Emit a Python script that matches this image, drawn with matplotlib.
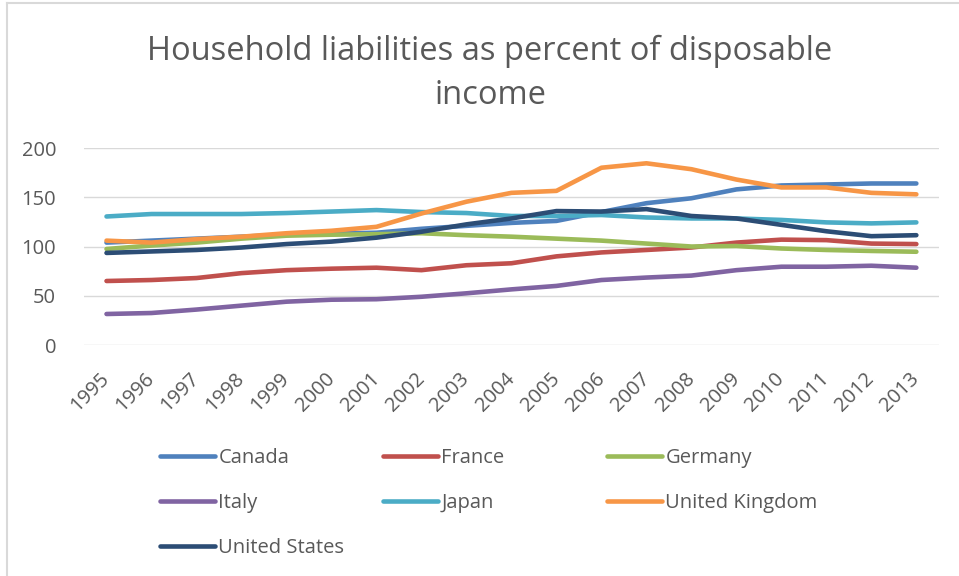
import numpy as np
import matplotlib.pyplot as plt
from matplotlib.lines import Line2D
from matplotlib.transforms import ScaledTranslation

plt.rcParams['font.family'] = ['Open Sans', 'DejaVu Sans']

years = [str(y) for y in range(1995, 2014)]

canada = [104, 106, 108, 110, 112, 113, 114, 118, 121, 124, 126, 135, 144, 149, 158, 162, 163, 164, 164]
france = [65, 66, 68, 73, 76, 77.5, 78.5, 76, 81, 83, 90, 94, 96.5, 99, 104, 107, 106.5, 103, 102.5]
germany = [97.5, 101, 104, 108, 111, 112, 112.5, 113.5, 111.5, 110, 108, 106, 103, 100, 100.5, 98, 96.5, 95.5, 94.7]
italy = [31.5, 32.5, 36, 40, 44, 46, 46.5, 49, 52.5, 56.5, 60, 66, 68.5, 70.5, 76, 79.5, 79.5, 80.5, 78.5]
japan = [130.5, 133, 133, 133, 134, 135.5, 137, 135, 134, 131, 131, 132, 129.5, 128.5, 128.5, 127, 124.5, 123.5, 124.5]
uk = [106, 104, 107.5, 110, 113.5, 116, 120, 133.5, 145.5, 154.5, 156.5, 180, 184.5, 178.5, 168, 160, 160, 154.5, 153]
us = [93.5, 95, 96.5, 99, 102.5, 105, 109, 115, 122.5, 128.5, 136, 135.5, 138, 131, 128.5, 122, 115.5, 110.5, 111.5]

series = [
    ('Canada', canada, '#4F81BD'),
    ('France', france, '#C0504D'),
    ('Germany', germany, '#9BBB59'),
    ('Italy', italy, '#8064A2'),
    ('Japan', japan, '#4BACC6'),
    ('United Kingdom', uk, '#F79646'),
    ('United States', us, '#2C4D75'),
]

text_col = '#595959'
grid_col = '#D9D9D9'

fig = plt.figure(figsize=(9.59, 5.76), dpi=100)
ax = fig.add_axes([0.0876, 0.401, 0.8914, 0.342])

x = np.arange(len(years))
lines = {}
for name, vals, col in series:
    ln, = ax.plot(x, vals, color=col, lw=3.3, solid_capstyle='round', label=name)
    lines[name] = ln

ax.set_xlim(-0.5, len(years) - 0.5)
ax.set_ylim(0, 200)
ax.set_yticks([0, 50, 100, 150, 200])
ax.set_xticks(x)
ax.set_xticklabels(years, rotation=45, ha='right', rotation_mode='anchor')
ax.tick_params(axis='both', length=0, colors=text_col)
ax.tick_params(axis='y', pad=20, labelsize=14.5)
ax.tick_params(axis='x', pad=17, labelsize=14.5)
shift = ScaledTranslation(-5 / 72, 0, fig.dpi_scale_trans)
for lab in ax.get_xticklabels():
    lab.set_transform(lab.get_transform() + shift)
ax.grid(axis='y', color=grid_col, lw=1)
ax.set_axisbelow(True)
for s in ax.spines.values():
    s.set_visible(False)

fig.text(0.511, 0.873, 'Household liabilities as percent of disposable\nincome',
         ha='center', va='center', fontsize=23.5, color=text_col, linespacing=1.45)

# one legend per column so columns sit on a fixed grid like the original
columns = [(0.1668, ['Canada', 'Italy', 'United States']),
           (0.3994, ['France', 'Japan']),
           (0.6330, ['Germany', 'United Kingdom'])]
for xpos, names in columns:
    fig.legend([lines[n] for n in names], names, loc='upper left',
               bbox_to_anchor=(xpos, 0.222), frameon=False, fontsize=14.5,
               labelcolor=text_col, handlelength=2.75, handletextpad=0.15,
               labelspacing=1.25, borderpad=0, borderaxespad=0)

# chart border (left and top edges visible in the original)
fig.add_artist(Line2D([0.0075, 0.0075], [0, 0.995], transform=fig.transFigure,
                      color=grid_col, lw=1.5))
fig.add_artist(Line2D([0.0075, 1], [0.995, 0.995], transform=fig.transFigure,
                      color=grid_col, lw=1.5))

fig.savefig('out.png', dpi=100)
